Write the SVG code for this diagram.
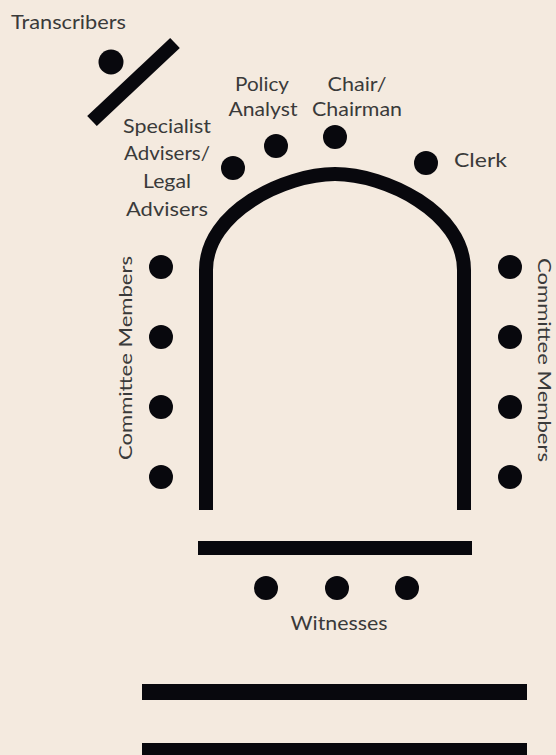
<svg xmlns="http://www.w3.org/2000/svg" width="556" height="755" viewBox="0 0 556 755">
<style>
.lbl{font-family:Lato,"Liberation Sans",sans-serif;font-size:19px;fill:#3a3a3a;}
.side{font-size:18px;}
.dot{fill:#08080d;}
.bar{fill:#08080d;}
.ln{stroke:#08080d;fill:none;stroke-width:14;}
</style>
<rect width="556" height="755" fill="#f4eadf"/>
<g id="transcribers">
<text class="lbl" x="11" y="29" textLength="115" lengthAdjust="spacingAndGlyphs">Transcribers</text>
<circle class="dot" cx="111" cy="62" r="12.5"/>
<line class="ln" x1="92" y1="121" x2="175" y2="43" stroke-width="13"/>
</g>
<g id="table">
<path class="ln" d="M206,510 V270 C206,212 285,174 335,174 C385,174 464,212 464,270 V510"/>
<rect class="bar" x="198" y="541" width="274" height="14"/>
</g>
<g id="specialist">
<circle class="dot" cx="233" cy="168" r="12"/>
<text class="lbl" text-anchor="middle" x="167" y="133" textLength="88" lengthAdjust="spacingAndGlyphs">Specialist</text>
<text class="lbl" text-anchor="middle" x="167" y="160" textLength="86" lengthAdjust="spacingAndGlyphs">Advisers/</text>
<text class="lbl" text-anchor="middle" x="167" y="188" textLength="48" lengthAdjust="spacingAndGlyphs">Legal</text>
<text class="lbl" text-anchor="middle" x="167" y="216" textLength="82" lengthAdjust="spacingAndGlyphs">Advisers</text>
</g>
<g id="policy">
<circle class="dot" cx="276" cy="146" r="12"/>
<text class="lbl" text-anchor="middle" x="262" y="91" textLength="54" lengthAdjust="spacingAndGlyphs">Policy</text>
<text class="lbl" text-anchor="middle" x="263" y="116" textLength="69" lengthAdjust="spacingAndGlyphs">Analyst</text>
</g>
<g id="chair">
<circle class="dot" cx="335" cy="137" r="12"/>
<text class="lbl" text-anchor="middle" x="357" y="91" textLength="59" lengthAdjust="spacingAndGlyphs">Chair/</text>
<text class="lbl" text-anchor="middle" x="357" y="116" textLength="90" lengthAdjust="spacingAndGlyphs">Chairman</text>
</g>
<g id="clerk">
<circle class="dot" cx="426" cy="163" r="12"/>
<text class="lbl" x="454" y="167" textLength="53" lengthAdjust="spacingAndGlyphs">Clerk</text>
</g>
<g id="members-left">
<circle class="dot" cx="161" cy="267" r="12"/>
<circle class="dot" cx="161" cy="337" r="12"/>
<circle class="dot" cx="161" cy="407" r="12"/>
<circle class="dot" cx="161" cy="477" r="12"/>
<text class="lbl side" text-anchor="middle" transform="translate(132,358) rotate(-90)" textLength="204" lengthAdjust="spacingAndGlyphs">Committee Members</text>
</g>
<g id="members-right">
<circle class="dot" cx="510" cy="267" r="12"/>
<circle class="dot" cx="510" cy="337" r="12"/>
<circle class="dot" cx="510" cy="407" r="12"/>
<circle class="dot" cx="510" cy="477" r="12"/>
<text class="lbl side" text-anchor="middle" transform="translate(538,360) rotate(90)" textLength="204" lengthAdjust="spacingAndGlyphs">Committee Members</text>
</g>
<g id="witnesses">
<circle class="dot" cx="266" cy="588" r="12"/>
<circle class="dot" cx="337" cy="588" r="12"/>
<circle class="dot" cx="407" cy="588" r="12"/>
<text class="lbl" text-anchor="middle" x="339" y="630" textLength="97" lengthAdjust="spacingAndGlyphs">Witnesses</text>
</g>
<g id="benches">
<rect class="bar" x="142" y="684" width="385" height="16"/>
<rect class="bar" x="142" y="743" width="385" height="16"/>
</g>
</svg>
